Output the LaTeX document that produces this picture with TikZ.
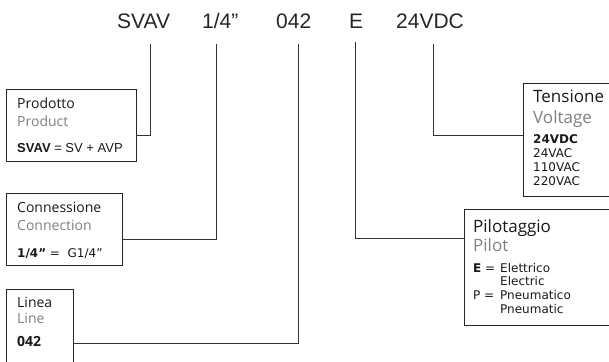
\documentclass[tikz,border=0pt]{standalone}
\usepackage{fontspec}
\setmainfont{Liberation Sans}
\newfontfamily\osans{Open Sans}
\newfontfamily\dvs{DejaVu Sans}
\begin{document}
\begin{tikzpicture}[x=1pt,y=-1pt,
  box/.style={draw=black!85, line width=1pt},
  link/.style={draw=black!80, line width=1pt},
  code/.style={anchor=base west, inner sep=0pt, font=\fontsize{21}{25}\selectfont, text=black!85},
  ttl/.style={anchor=base west, inner sep=0pt, font=\osans\fontsize{14}{16}\selectfont, text=black!90},
  sub/.style={ttl, text=black!50},
  rttl/.style={anchor=base west, inner sep=0pt, font=\osans\fontsize{17}{19}\selectfont, text=black!90},
  rsub/.style={rttl, text=black!50},
  lval/.style={anchor=base west, inner sep=0pt, font=\fontsize{13}{15}\selectfont, text=black!90},
  val/.style={anchor=base west, inner sep=0pt, font=\dvs\fontsize{12}{14}\selectfont, text=black!90},
]
\useasboundingbox (0,0) rectangle (609,361);

% code
\node[code] (cSVAV) at (117,29) {SVAV};
\node[code] (cConn) at (202,29) {1/4”};
\node[code] (cLine) at (276,29) {042};
\node[code] (cPil)  at (349,29) {E};
\node[code] (cVolt) at (396,29) {24VDC};

% connector ends
\coordinate (tSVAV) at (150,44);
\coordinate (tConn) at (216,44);
\coordinate (tLine) at (298,44);
\coordinate (tPil)  at (355,42);
\coordinate (tVolt) at (433,44);
\coordinate (aProd) at (136,135);
\coordinate (aConn) at (122,239);
\coordinate (aLine) at (73,343);
\coordinate (aPil)  at (464,238);
\coordinate (aVolt) at (523,135);

% boxes
\node[box, inner sep=0pt, anchor=north west, minimum width=130, minimum height=72] (bProd) at (6,89) {};
\node[box, inner sep=0pt, anchor=north west, minimum width=116, minimum height=72] (bConn) at (6,193) {};
\draw[box] (6,362) -- (6,289) -- (73,289) -- (73,362);
\draw[box] (610,209) -- (464,209) -- (464,325) -- (610,325);
\draw[box] (610,83) -- (523,83) -- (523,196) -- (610,196);

% connectors
\draw[link] (tSVAV) |- (aProd);
\draw[link] (tConn) |- (aConn);
\draw[link] (tLine) |- (aLine);
\draw[link] (tPil)  |- (aPil);
\draw[link] (tVolt) |- (aVolt);

% Prodotto
\node[ttl] (tProd1) at (17,108) {Prodotto};
\node[sub] (tProd2) at (17,126) {Product};
\node[lval] (tProd3) at (17,152) {\textbf{SVAV} = SV + AVP};

% Connessione
\node[ttl] (tConn1) at (17,212) {Connessione};
\node[sub] (tConn2) at (17,230) {Connection};
\node[val, font=\dvs\fontsize{12}{14}\selectfont] (tConn3) at (17,257) {\textbf{1/4”} =\ \ G1/4”};

% Linea
\node[ttl] (tLine1) at (17,307) {Linea};
\node[sub] (tLine2) at (17,323) {Line};
\node[ttl, font=\osans\bfseries\fontsize{14}{16}\selectfont] (tLine3) at (17,346) {042};

% Tensione
\node[rttl] (tVolt1) at (533,102) {Tensione};
\node[rsub] (tVolt2) at (533,123) {Voltage};
\node[val] (tVolt3) at (533,143) {\textbf{24VDC}};
\node[val] (tVolt4) at (533,157) {24VAC};
\node[val] (tVolt5) at (533,171) {110VAC};
\node[val] (tVolt6) at (533,185) {220VAC};

% Pilotaggio
\node[rttl] (tPil1) at (473,232) {Pilotaggio};
\node[rsub] (tPil2) at (473,251) {Pilot};
\node[val] (tPil3) at (473,272) {\textbf{E} =};
\node[val] (tPil4) at (500,272) {Elettrico};
\node[val] (tPil5) at (500,285) {Electric};
\node[val] (tPil6) at (473,299) {P =};
\node[val] (tPil7) at (500,299) {Pneumatico};
\node[val] (tPil8) at (500,313) {Pneumatic};
\end{tikzpicture}
\end{document}
